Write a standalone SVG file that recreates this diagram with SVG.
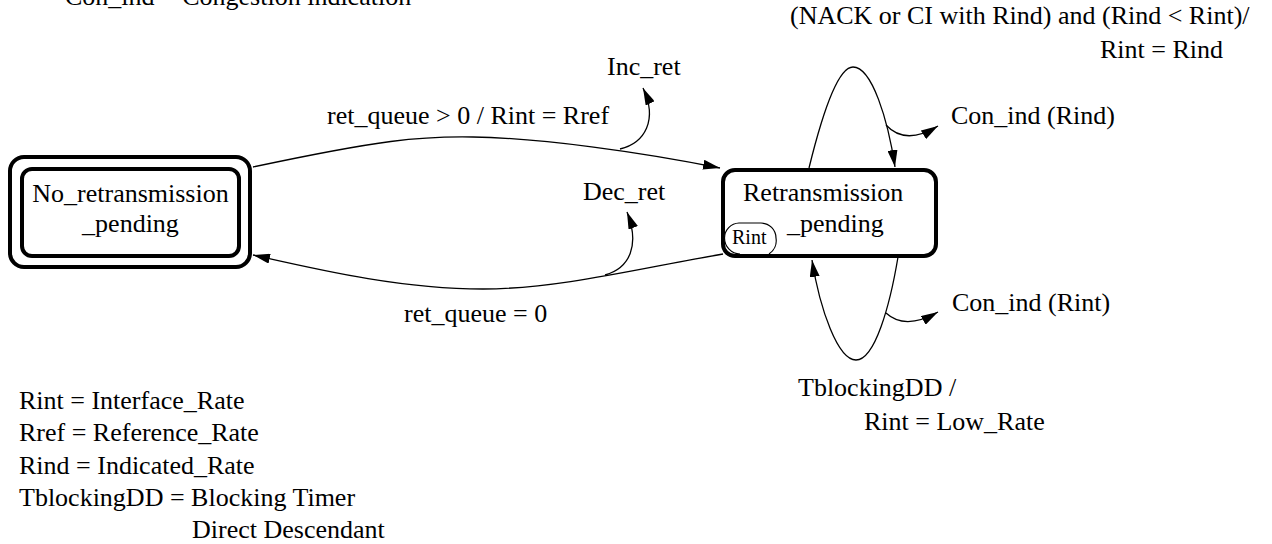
<svg xmlns="http://www.w3.org/2000/svg" width="1272" height="544" viewBox="0 0 1272 544">
<style>
text{font-family:"Liberation Serif","Times New Roman",serif;font-size:26px;fill:#000}
.small{font-size:20px}
.node{fill:#fff;stroke:#000;stroke-width:4}
.edge{fill:none;stroke:#000;stroke-width:1.3}
.badge{fill:#fff;stroke:#000;stroke-width:1.2}
</style>
<defs>
<marker id="ah" viewBox="0 0 17 10" refX="17" refY="5" markerWidth="17" markerHeight="10" markerUnits="userSpaceOnUse" orient="auto">
<path d="M0,0 L17,5 L0,10 z" fill="#000"/>
</marker>
</defs>
<rect width="1272" height="544" fill="#fff"/>

<g id="legend">
<text x="65" y="5">Con_ind = Congestion indication</text>
<text x="19" y="409">Rint = Interface_Rate</text>
<text x="19" y="441">Rref = Reference_Rate</text>
<text x="19" y="474">Rind = Indicated_Rate</text>
<text x="19" y="506">TblockingDD = Blocking Timer</text>
<text x="192" y="538">Direct Descendant</text>
</g>

<g id="connectors">
<path class="edge" d="M253,167 C380,140 420,136 473,137 C540,138 640,152 720,168" marker-end="url(#ah)"/>
<path class="edge" d="M620,149 C645,143 658,120 643,88" marker-end="url(#ah)"/>
<path class="edge" d="M723,254 C650,266 560,289 483,289 C400,289 320,270 253,255" marker-end="url(#ah)"/>
<path class="edge" d="M605,275 C630,268 640,245 627,212" marker-end="url(#ah)"/>
<path class="edge" d="M809,168 C822,115 838,67 853,67 C872,67 888,120 895,167" marker-end="url(#ah)"/>
<path class="edge" d="M886,125 C898,138 915,140 938,126" marker-end="url(#ah)"/>
<path class="edge" d="M898,257 C890,305 875,360 856,360 C838,360 820,310 812,260" marker-end="url(#ah)"/>
<path class="edge" d="M886,313 C898,324 915,325 938,312" marker-end="url(#ah)"/>
</g>

<g id="edge-labels">
<text x="327" y="124">ret_queue &gt; 0 / Rint = Rref</text>
<text x="607" y="75">Inc_ret</text>
<text x="583" y="200">Dec_ret</text>
<text x="404" y="322">ret_queue = 0</text>
<text x="790" y="24">(NACK or CI with Rind) and (Rind &lt; Rint)/</text>
<text x="1100" y="58">Rint = Rind</text>
<text x="951" y="124">Con_ind (Rind)</text>
<text x="952" y="311">Con_ind (Rint)</text>
<text x="798" y="396">TblockingDD /</text>
<text x="864" y="430">Rint = Low_Rate</text>
</g>

<g id="No_retransmission_pending">
<rect class="node" x="10" y="157" width="240" height="110" rx="14"/>
<rect class="node" x="22" y="169" width="217" height="87" rx="10"/>
<text x="130.5" y="202" text-anchor="middle">No_retransmission</text>
<text x="130.5" y="232" text-anchor="middle">_pending</text>
</g>

<g id="Retransmission_pending">
<rect class="node" x="723" y="170" width="213" height="86" rx="12"/>
<text x="743" y="201">Retransmission</text>
<text x="787" y="232">_pending</text>
<path class="badge" d="M740,254 A16,16 0 0 1 724.5,238 A15,15 0 0 1 739,223 L761,223 A15,15 0 0 1 776,238 A16,16 0 0 1 769,254"/>
<text class="small" x="732" y="244">Rint</text>
</g>
</svg>
